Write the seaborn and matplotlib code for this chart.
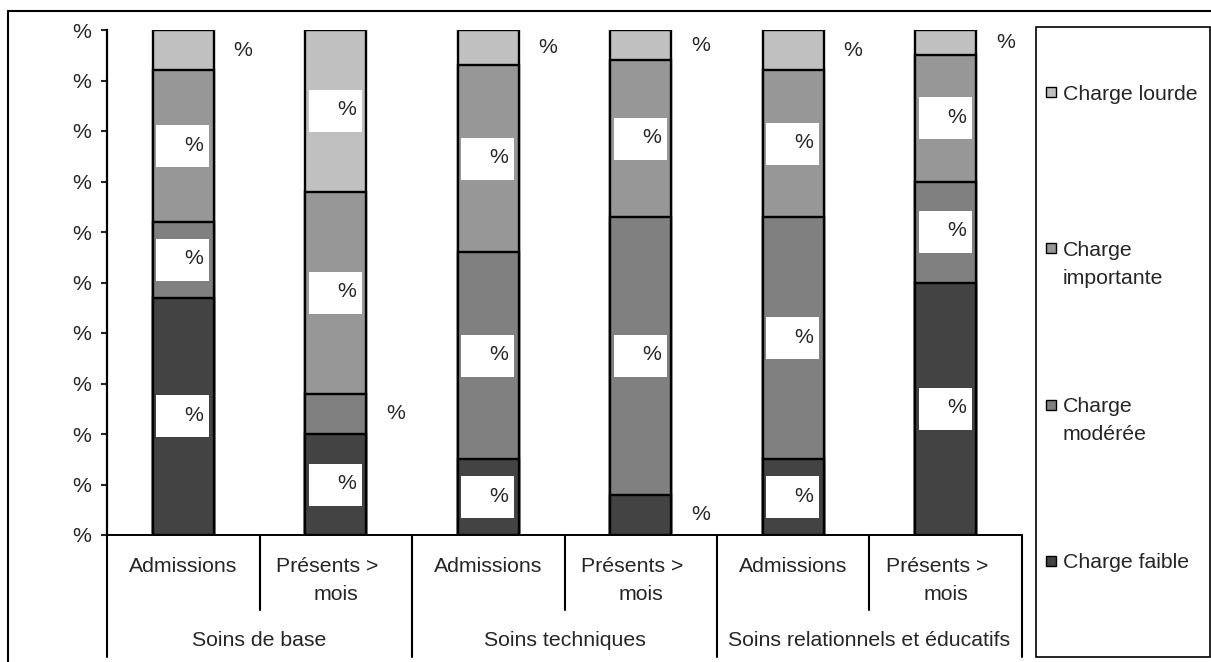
import numpy as np
import pandas as pd
import matplotlib
matplotlib.use("Agg")
import matplotlib.pyplot as plt
from matplotlib.patches import Rectangle
from matplotlib.lines import Line2D
import seaborn as sns

# ---- data -------------------------------------------------------------
groups = ["Soins de base", "Soins techniques", "Soins relationnels et éducatifs"]
subgroups = ["Admissions", "Présents >   \nmois"]
series = ["Charge faible", "Charge modérée", "Charge importante", "Charge lourde"]
legend_labels = ["Charge lourde", "Charge\nimportante", "Charge\nmodérée", "Charge faible"]

# shares (%) per bar, in order: base/adm, base/prés, tech/adm, tech/prés, rel/adm, rel/prés
charge_faible = [47, 20, 15, 8, 15, 50]
charge_moderee = [15, 8, 41, 55, 48, 20]
charge_importante = [30, 40, 37, 31, 29, 25]
charge_lourde = [8, 32, 7, 6, 8, 5]

y_ticks = [0, 10, 20, 30, 40, 50, 60, 70, 80, 90, 100]
y_tick_labels = ["%", "%", "%", "%", "%", "%", "%", "%", "%", "%", "%"]

colors = {
    "Charge faible": "#434343",
    "Charge modérée": "#808080",
    "Charge importante": "#979797",
    "Charge lourde": "#c0c0c0",
}

# ---- figure -----------------------------------------------------------
W, H = 1211, 662
sns.set_style("white")
plt.rcParams["font.family"] = ["Liberation Sans", "DejaVu Sans"]
FS = 15.3
LINE = 28  # px between text lines

fig = plt.figure(figsize=(W / 100, H / 100), dpi=100)
AX_L, AX_B, AX_W, AX_H = 107, 127, 915, 505
ax = fig.add_axes([AX_L / W, AX_B / H, AX_W / W, AX_H / H])


def fpx(x, y):
    return x / W, 1 - y / H


keys = [f"{g}|{s}" for g in groups for s in subgroups]
values = {
    "Charge faible": charge_faible,
    "Charge modérée": charge_moderee,
    "Charge importante": charge_importante,
    "Charge lourde": charge_lourde,
}
df = pd.DataFrame({"key": keys})
for s in series:
    df[s] = values[s]
cum = df[series].cumsum(axis=1)
bottoms = cum.shift(1, axis=1).fillna(0)

# stacked bars: draw cumulative totals from the top series down
for s in reversed(series):
    sns.barplot(data=pd.DataFrame({"key": keys, "top": cum[s]}), x="key", y="top",
                order=keys, color=colors[s], saturation=1, width=0.4,
                edgecolor="black", linewidth=1.7, ax=ax, zorder=2)

ax.set_xlim(-0.5, len(keys) - 0.5)
ax.set_ylim(0, 100)
ax.set_yticks(y_ticks)
ax.set_yticklabels(y_tick_labels, fontsize=FS)
ax.tick_params(axis="y", direction="out", length=4.5, width=1.5, pad=7, left=True)
ax.tick_params(axis="x", bottom=False, labelbottom=False)
ax.set_xlabel("")
ax.set_ylabel("")
for side in ["top", "right"]:
    ax.spines[side].set_visible(False)
ax.spines["left"].set_linewidth(1.6)
ax.spines["bottom"].set_linewidth(1.4)
ax.spines["left"].set_color("black")
ax.spines["bottom"].set_color("black")

# segment labels: white tag inside the segment, or plain text beside short ones
slot_px = AX_W / len(keys)
unit_px = AX_H / 100.0
box_w = 53 / slot_px
box_h = 42 / unit_px
box_x0 = -27 / slot_px
txt_dx = (26 - 6) / slot_px
for i in range(len(keys)):
    for s in series:
        v = df.loc[i, s]
        mid = bottoms.loc[i, s] + v / 2
        if v >= 9:
            ax.add_patch(Rectangle((i + box_x0, mid - box_h / 2), box_w, box_h,
                                   fc="white", ec="none", zorder=5))
            ax.text(i + txt_dx, mid + 1.0 / unit_px, "%", ha="right", va="center",
                    fontsize=FS, zorder=6)
        else:
            ax.text(i + 0.2 + 0.13, mid, "%", ha="left", va="center", fontsize=FS,
                    zorder=6)

# two-level category axis
trans = ax.get_xaxis_transform()
sub_bottom = -75 / AX_H
grp_bottom = -122 / AX_H
for j, g in enumerate(groups):
    for k, s in enumerate(subgroups):
        i = j * len(subgroups) + k
        for n, line in enumerate(s.split("\n")):
            ax.text(i, -(37.5 + n * LINE) / AX_H, line, transform=trans,
                    ha="center", va="baseline", fontsize=FS)
    gc = j * len(subgroups) + (len(subgroups) - 1) / 2
    ax.text(gc, -110.5 / AX_H, g, transform=trans, ha="center", va="baseline",
            fontsize=FS)
    # separator inside the group
    xs = j * len(subgroups) + 0.5
    ax.add_line(Line2D([xs, xs], [0, sub_bottom], transform=trans, color="black",
                       lw=1.5, clip_on=False))
for xg in np.arange(-0.5, len(keys), len(subgroups)):
    ax.add_line(Line2D([xg, xg], [0, grp_bottom], transform=trans, color="black",
                       lw=1.5, clip_on=False))

# legend panel
lx0, ly0 = fpx(1036, 657)
lx1, ly1 = fpx(1210, 27)
fig.patches.append(Rectangle((lx0, ly0), lx1 - lx0, ly1 - ly0, transform=fig.transFigure,
                             fill=False, ec="black", lw=1.2))
legend_y = [92, 248, 405, 561]
legend_series = ["Charge lourde", "Charge importante", "Charge modérée", "Charge faible"]
for lbl, s, yy in zip(legend_labels, legend_series, legend_y):
    sx, sy = fpx(1046, yy + 5)
    fig.patches.append(Rectangle((sx, sy), 10 / W, 10 / H, transform=fig.transFigure,
                                 fc=colors[s], ec="black", lw=1.0))
    for n, line in enumerate(lbl.split("\n")):
        tx, ty = fpx(1063, yy + 7.5 + n * LINE)
        fig.text(tx, ty, line, ha="left", va="baseline", fontsize=FS)

# outer chart frame
fig.add_artist(Line2D([8 / W, 1.0], [1 - 11 / H, 1 - 11 / H], transform=fig.transFigure,
                      color="black", lw=1.5))
fig.add_artist(Line2D([8 / W, 8 / W], [1 - 11 / H, 0.0], transform=fig.transFigure,
                      color="black", lw=1.5))

fig.savefig("out.png", dpi=100)
